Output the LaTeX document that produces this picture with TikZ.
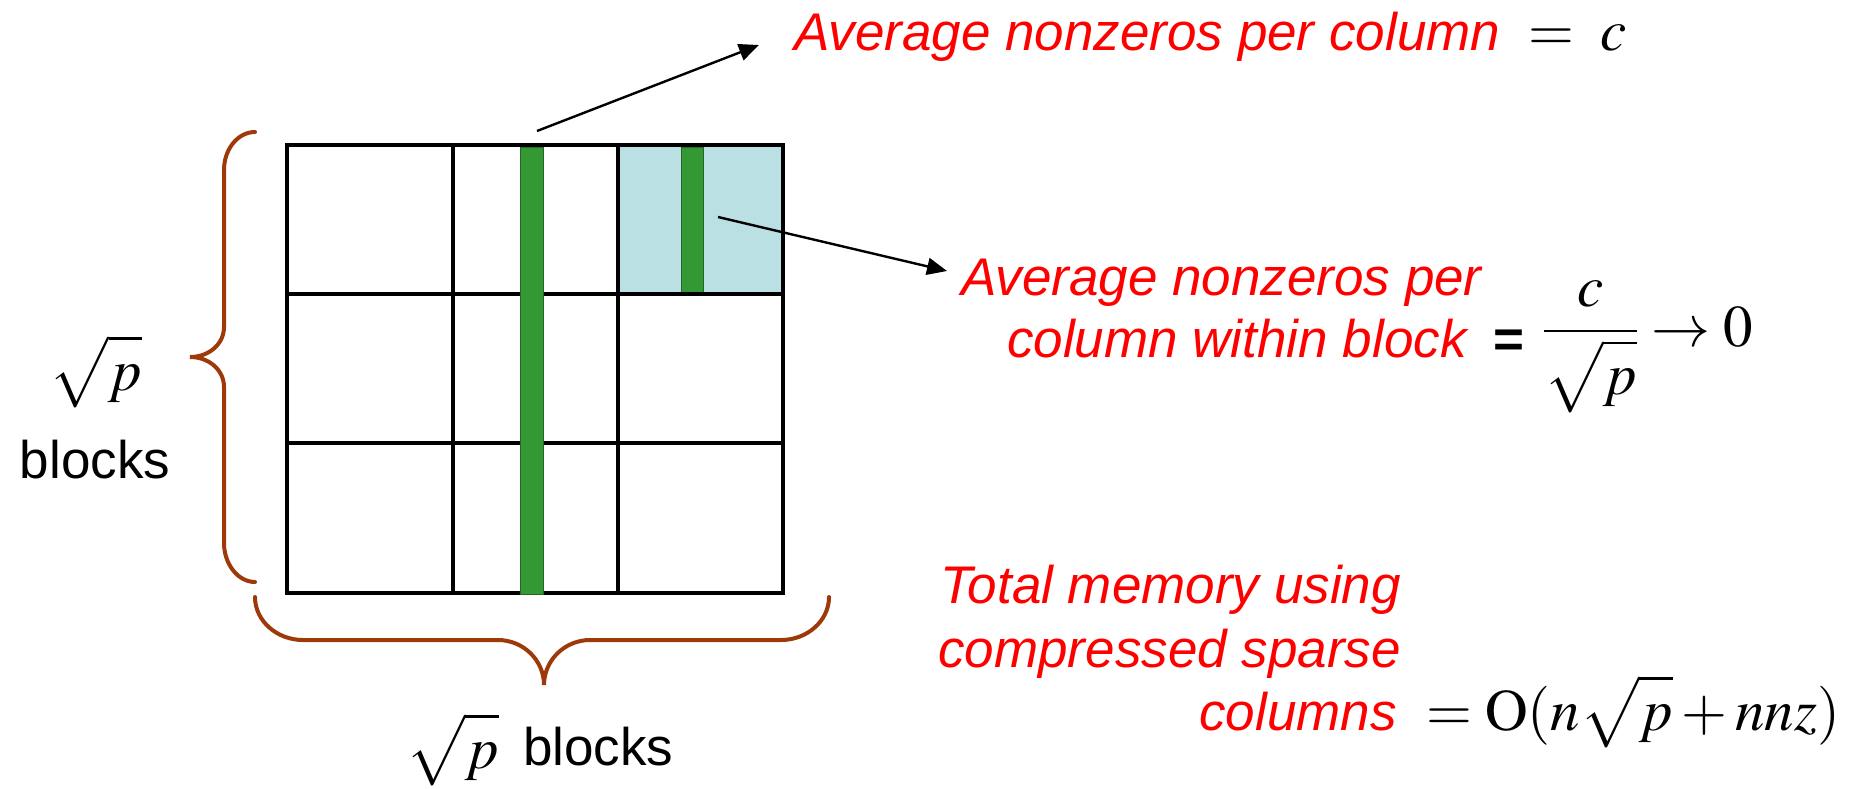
\documentclass[tikz,border=0pt]{standalone}
\usepackage{mathptmx}
\usepackage[no-math]{fontspec}
\setmainfont{Liberation Sans}
\usetikzlibrary{arrows.meta}

\definecolor{braceBrown}{RGB}{158,58,10}
\definecolor{cellBlue}{RGB}{187,224,227}
\definecolor{colGreen}{RGB}{51,153,51}
\definecolor{colEdge}{RGB}{40,100,40}

\tikzset{
  gridline/.style={line width=4pt},
  bracepath/.style={draw=braceBrown, line width=4pt, line cap=round},
  pointer/.style={line width=2.4pt, -{Triangle[length=20pt,width=17pt]}},
  redlabel/.style={inner sep=0pt, text=red, font=\fontsize{53}{60}\selectfont\itshape},
  blacklabel/.style={inner sep=0pt, font=\fontsize{53}{60}\selectfont},
  mathlabel/.style={inner sep=0pt, font=\fontsize{59}{65}\selectfont},
  greenbar/.style={fill=colGreen, draw=colEdge, line width=1pt},
}

\begin{document}
\begin{tikzpicture}[x=1pt,y=-1pt]
\useasboundingbox (0,0) rectangle (1859,788);

% block grid: 3 x 3 blocks, the top-right block shaded
\fill[cellBlue] (618,145) rectangle (782.5,294);
\path[greenbar] (681,147) rectangle (703,292);
\draw[gridline] (287,145) rectangle (782.5,593);
\draw[gridline] (453,145) -- (453,593) (618,145) -- (618,593)
                (287,294) -- (782.5,294) (287,443) -- (782.5,443);
% one full column of the matrix
\path[greenbar] (520,147.5) rectangle (543,594);

% braces
\draw[bracepath] (255,132) .. controls (238,132) and (224,149) .. (224,170)
  -- (224,327) .. controls (224,344) and (209,357) .. (190,357)
  .. controls (209,357) and (224,370) .. (224,387)
  -- (224,543) .. controls (224,564) and (238,582) .. (255,582);
\draw[bracepath] (255,597) .. controls (255,621) and (277,640) .. (303,640)
  -- (498,640) .. controls (523,640) and (544,660) .. (544,685)
  .. controls (544,660) and (565,640) .. (590,640)
  -- (781,640) .. controls (807,640) and (829,621) .. (829,597);

% brace labels
\node[mathlabel, anchor=base] (vsqrt) at (96,390) {$\sqrt{\mathstrut p}$};
\node[blacklabel, anchor=base] (vblocks) at (95,478) {blocks};
\node[mathlabel, anchor=base west] (hsqrt) at (406,768) {$\sqrt{\mathstrut p}$};
\node[blacklabel, anchor=base west] (hblocks) at (523,765) {blocks};

% annotations
\node[redlabel, anchor=base west] (avgcol) at (794,50) {Average nonzeros per column};
\node[mathlabel, anchor=base west] (avgeq) at (1528,50) {$=\;c$};

\node[redlabel, anchor=base west] (blk1) at (961,295) {Average nonzeros per};
\node[redlabel, anchor=base west] (blk2) at (1007,357) {column within block};
\node[blacklabel, anchor=base west] (blkeq) at (1493,357) {\bfseries =};
\node[mathlabel, anchor=base west] (blkfrac) at (1543,346)
  {$\displaystyle\frac{c}{\sqrt{\mathstrut p}}\to 0$};

\node[redlabel, anchor=base east] (mem1) at (1401,603) {Total memory using};
\node[redlabel, anchor=base east] (mem2) at (1401,667) {compressed sparse};
\node[redlabel, anchor=base east] (mem3) at (1397,730) {columns};
\node[mathlabel, anchor=base west] (memeq) at (1426,730)
  {$=\mathrm{O}(n\sqrt{\mathstrut p}+nnz)$};

% pointers from the column and from the block column
\coordinate (colTop) at (537,131);
\coordinate (colTip) at (759,45);
\coordinate (blkStart) at (718,217);
\coordinate (blkTip) at (947,271);
\draw[pointer] (colTop) -- (colTip);
\draw[pointer] (blkStart) -- (blkTip);
\end{tikzpicture}
\end{document}
